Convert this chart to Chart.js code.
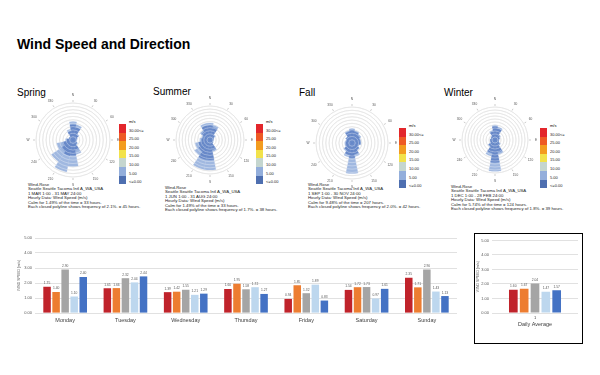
<!DOCTYPE html>
<html><head><meta charset="utf-8">
<script src="https://cdn.jsdelivr.net/npm/chart.js@4.4.1/dist/chart.umd.min.js"></script>
<style>
html,body{margin:0;padding:0;background:#fff;}
#page{position:relative;width:600px;height:375px;overflow:hidden;font-family:"Liberation Sans",Arial,sans-serif;color:#000;}
.abs{position:absolute;}
.title{left:17px;top:36.5px;font-size:14px;line-height:14px;font-weight:bold;white-space:nowrap;}
.season{font-size:10px;line-height:10px;white-space:nowrap;}
.info{font-size:4.3px;line-height:4.4px;white-space:nowrap;color:#222;}
.leg{position:absolute;}
.leg .unit{font-size:4px;line-height:5px;margin-left:10px;height:5px;}
.leg .row{display:flex;align-items:flex-end;height:8.6px;}
.leg .sw{width:7px;height:100%;}
.leg .lb{font-size:4px;margin-left:3px;line-height:4px;white-space:nowrap;color:#222;}
canvas{position:absolute;}
#avgBox{position:absolute;left:474px;top:233px;width:109px;height:111px;border:1.5px solid #000;box-sizing:border-box;}
</style>
</head>
<body>
<div id="page">
  <div class="abs title">Wind Speed and Direction</div>
  <div id="avgBox"></div>
  <canvas id="barChart" width="453" height="100" style="left:17px;top:228px;"></canvas>
  <canvas id="avgChart" width="105" height="93" style="left:476px;top:235px;"></canvas>
</div>
<script>
// ---------- Wind rose data (frequency %, by direction, two speed bins) ----------
const directions = ["N","NNE","NE","ENE","E","ESE","SE","SSE","S","SSW","SW","WSW","W","WNW","NW","NNW"];
const compassLabels = ["N","30","60","E","120","150","S","210","240","W","300","330"];
const speedBins = ["0-5 m/s","5-10 m/s"];

const springLow  = [9.5,8.0,4.0,2.5,2.0,2.0,3.0,6.5,9.5,10.0,8.5,6.5,4.0,2.5,2.5,5.5];
const springHigh = [2.0,1.7,0.6,0.3,0.3,0.3,0.5,2.7,7.1,10.3,7.7,3.9,0.6,0.3,0.3,1.4];
const summerLow  = [8.0,7.0,3.2,2.0,1.7,1.7,2.0,5.5,11.0,11.0,7.5,6.5,4.7,4.0,5.5,8.0];
const summerHigh = [1.4,1.4,0.5,0.2,0.2,0.2,0.2,1.0,5.5,5.5,2.8,1.9,0.9,0.7,1.0,1.4];
const fallLow    = [8.0,7.0,6.0,5.0,5.0,4.0,5.0,7.0,9.0,7.5,5.5,4.0,4.0,3.6,4.4,7.0];
const fallHigh   = [0.8,0.7,0.6,0.5,0.5,0.4,0.5,1.4,9.7,1.3,0.7,0.4,0.4,0.4,0.4,0.7];
const winterLow  = [8.0,7.0,3.6,2.7,2.2,2.2,3.6,7.5,13.5,8.0,4.5,2.7,2.7,2.2,2.7,5.3];
const winterHigh = [0.9,0.9,0.4,0.3,0.2,0.2,0.4,1.4,5.3,1.9,0.5,0.3,0.3,0.2,0.3,0.6];

const seasonNames = ["Spring","Summer","Fall","Winter"];
const ringSteps   = [2.1,1.7,2.0,1.8];
const periods = ["1 MAR 1:00 - 31 MAY 24:00","1 JUN 1:00 - 31 AUG 24:00","1 SEP 1:00 - 30 NOV 24:00","1 DEC 1:00 - 28 FEB 24:00"];
const calmTexts = ["Calm for 1.49% of the time = 33 hours.","Calm for 1.49% of the time = 33 hours.","Calm for 9.48% of the time = 207 hours.","Calm for 5.74% of the time = 124 hours."];
const polyTexts = ["Each closed polyline shows frequency of 2.1%. = 45 hours.","Each closed polyline shows frequency of 1.7%. = 38 hours.","Each closed polyline shows frequency of 2.0%. = 42 hours.","Each closed polyline shows frequency of 1.8%. = 39 hours."];
const legendLabels = ["30.00<=","25.00","20.00","15.00","10.00","5.00","<=0.00"];
const legendColors = ["#e3262b","#ee5a24","#f39c1f","#f2e24a","#c5d6cf","#93aedb","#4e6fb0"];

// ---------- Bar chart data ----------
const days = ["Monday","Tuesday","Wednesday","Thursday","Friday","Saturday","Sunday"];
const series1 = [1.75,1.65,1.39,1.60,0.94,1.54,2.35];
const series2 = [1.40,1.66,1.42,1.95,1.85,1.72,1.71];
const series3 = [2.90,2.32,1.55,1.58,1.32,1.73,2.90];
const series4 = [1.10,2.04,1.21,1.72,1.89,0.97,1.43];
const series5 = [2.40,2.44,1.29,1.27,0.83,1.61,1.13];
const dailyAvg = [1.60,1.67,2.04,1.47,1.57];
const barColors = ["#c0232b","#ed7d31","#a5a5a5","#bdd7ee","#4472c4"];

// ---------- layout ----------
const page = document.getElementById('page');
const roseLayout = [
  {cx:73, cy:140, r:37, title:[17,88], info:[28,183], leg:[119,119]},
  {cx:210,cy:140, r:34, title:[153,87], info:[165,186], leg:[256,119]},
  {cx:352,cy:143, r:36, title:[299,88], info:[308,183], leg:[399,123]},
  {cx:495,cy:140, r:33, title:[444,88], info:[451,185], leg:[540,123]}
];
const lows  = [springLow, summerLow, fallLow, winterLow];
const highs = [springHigh, summerHigh, fallHigh, winterHigh];

const roseOverlay = {
  id:'roseOverlay',
  afterDatasetsDraw(chart){
    const s = chart.scales.r, ctx = chart.ctx;
    ctx.save();
    ctx.strokeStyle = 'rgba(255,255,255,0.55)';
    ctx.lineWidth = 0.6;
    s.ticks.forEach(t=>{
      if(t.value<=0) return;
      ctx.beginPath();
      ctx.arc(s.xCenter, s.yCenter, s.getDistanceFromCenterForValue(t.value), 0, Math.PI*2);
      ctx.stroke();
    });
    ctx.restore();
  },
  afterDraw(chart){
    const s = chart.scales.r, ctx = chart.ctx;
    ctx.save();
    ctx.fillStyle = '#555';
    ctx.strokeStyle = '#999';
    ctx.lineWidth = 0.5;
    ctx.font = '3.2px "Liberation Sans", Arial';
    ctx.textAlign = 'center'; ctx.textBaseline = 'middle';
    const R = s.drawingArea;
    compassLabels.forEach((t,i)=>{
      const a = (i*30-90)*Math.PI/180;
      ctx.beginPath();
      ctx.moveTo(s.xCenter+(R+1)*Math.cos(a), s.yCenter+(R+1)*Math.sin(a));
      ctx.lineTo(s.xCenter+(R+3)*Math.cos(a), s.yCenter+(R+3)*Math.sin(a));
      ctx.stroke();
      ctx.fillText(t, s.xCenter+(R+8)*Math.cos(a), s.yCenter+(R+8)*Math.sin(a));
    });
    ctx.restore();
  }
};

seasonNames.forEach((name,k)=>{
  const L = roseLayout[k];
  const t = document.createElement('div');
  t.className='abs season'; t.style.left=L.title[0]+'px'; t.style.top=L.title[1]+'px'; t.textContent=name;
  page.appendChild(t);
  const info = document.createElement('div');
  info.className='abs info'; info.style.left=L.info[0]+'px'; info.style.top=L.info[1]+'px';
  ["Wind-Rose","Seattle Seattle Tacoma Intl A_WA_USA",periods[k],"Hourly Data: Wind Speed (m/s)",calmTexts[k],polyTexts[k]].forEach(line=>{
    const d=document.createElement('div'); d.textContent=line; info.appendChild(d);
  });
  page.appendChild(info);
  const leg = document.createElement('div');
  leg.className='leg'; leg.style.left=L.leg[0]+'px'; leg.style.top=L.leg[1]+'px';
  const u=document.createElement('div'); u.className='unit'; u.textContent='m/s'; leg.appendChild(u);
  legendLabels.forEach((lab,i)=>{
    const row=document.createElement('div'); row.className='row';
    const sw=document.createElement('div'); sw.className='sw'; sw.style.background=legendColors[i];
    const lb=document.createElement('div'); lb.className='lb'; lb.textContent=lab;
    row.appendChild(sw); row.appendChild(lb); leg.appendChild(row);
  });
  page.appendChild(leg);
  const pad = 13;
  const size = 2*(L.r+pad);
  const c = document.createElement('canvas');
  c.width=size; c.height=size;
  c.style.left=(L.cx-size/2)+'px'; c.style.top=(L.cy-size/2)+'px';
  page.appendChild(c);
  const low = lows[k], high = highs[k];
  const total = low.map((v,i)=>v+high[i]);
  const step = ringSteps[k];
  new Chart(c.getContext('2d'),{
    type:'polarArea',
    data:{labels:directions, datasets:[
      {label:speedBins[0], data:low, backgroundColor:'#6788c8', borderColor:'#6788c8', borderWidth:0.3},
      {label:speedBins[1]+' (cumulative)', data:total, backgroundColor:'#a0b8e0', borderColor:'#a0b8e0', borderWidth:0.3}
    ]},
    options:{
      responsive:false, animation:false,
      layout:{padding:pad},
      plugins:{legend:{display:false}, tooltip:{enabled:false}},
      scales:{r:{
        min:0, max:+(step*11).toFixed(2), startAngle:-11.25,
        ticks:{display:false, stepSize:step},
        grid:{circular:true, color:'#c4c4c4', lineWidth:0.6},
        angleLines:{display:false},
        pointLabels:{display:false}
      }}
    },
    plugins:[roseOverlay]
  });
});

// ---------- bar charts ----------
const barLabels = {
  id:'barLabels',
  afterDatasetsDraw(chart,args,opts){
    const ctx=chart.ctx; ctx.save();
    ctx.font = opts.size+'px "Liberation Sans", Arial';
    ctx.fillStyle='#595959'; ctx.textAlign='center'; ctx.textBaseline='bottom';
    chart.data.datasets.forEach((ds,di)=>{
      chart.getDatasetMeta(di).data.forEach((el,i)=>{
        ctx.fillText(ds.data[i].toFixed(2), el.x, el.y-1.8);
      });
    });
    ctx.restore();
  }
};
const yAxis = (w)=>({
  min:0, max:5,
  ticks:{stepSize:1, callback:v=>v.toFixed(2), font:{size:4, family:'"Liberation Sans", Arial'}, color:'#595959', padding:3},
  grid:{color:'#d9d9d9', lineWidth:0.8, drawTicks:false},
  border:{display:false},
  title:{display:true, text:'WIND SPEED (m/s)', font:{size:3.5, family:'"Liberation Sans", Arial'}, color:'#595959', padding:{top:0,bottom:0}},
  afterFit(s){ s.width = w; }
});
const weekSeries = [series1,series2,series3,series4,series5];
new Chart(document.getElementById('barChart').getContext('2d'),{
  type:'bar',
  data:{labels:days, datasets:weekSeries.map((d,i)=>({label:'Series '+(i+1), data:d, backgroundColor:barColors[i]}))},
  options:{
    responsive:false, animation:false,
    categoryPercentage:0.75, barPercentage:0.83,
    layout:{padding:{left:0,right:13,top:10,bottom:0}},
    plugins:{legend:{display:false}, tooltip:{enabled:false}, barLabels:{size:3.3}},
    scales:{
      x:{grid:{display:false, drawTicks:false}, border:{display:false},
         ticks:{font:{size:5.5, family:'"Liberation Sans", Arial'}, color:'#404040', padding:4},
         afterFit(s){ s.height = 15; }},
      y:yAxis(18)
    }
  },
  plugins:[barLabels]
});
new Chart(document.getElementById('avgChart').getContext('2d'),{
  type:'bar',
  data:{labels:['1'], datasets:dailyAvg.map((v,i)=>({label:'Series '+(i+1), data:[v], backgroundColor:barColors[i]}))},
  options:{
    responsive:false, animation:false,
    categoryPercentage:0.63, barPercentage:0.8,
    layout:{padding:{left:0,right:3,top:4,bottom:0}},
    plugins:{legend:{display:false}, tooltip:{enabled:false}, barLabels:{size:3.3}},
    scales:{
      x:{grid:{display:false, drawTicks:false}, border:{display:false},
         ticks:{font:{size:4, family:'"Liberation Sans", Arial'}, color:'#404040', padding:2},
         title:{display:true, text:'Daily Average', font:{size:5.5, family:'"Liberation Sans", Arial'}, color:'#404040', padding:{top:1,bottom:0}},
         afterFit(s){ s.height = 15; }},
      y:yAxis(16)
    }
  },
  plugins:[barLabels]
});
</script>
</body></html>
